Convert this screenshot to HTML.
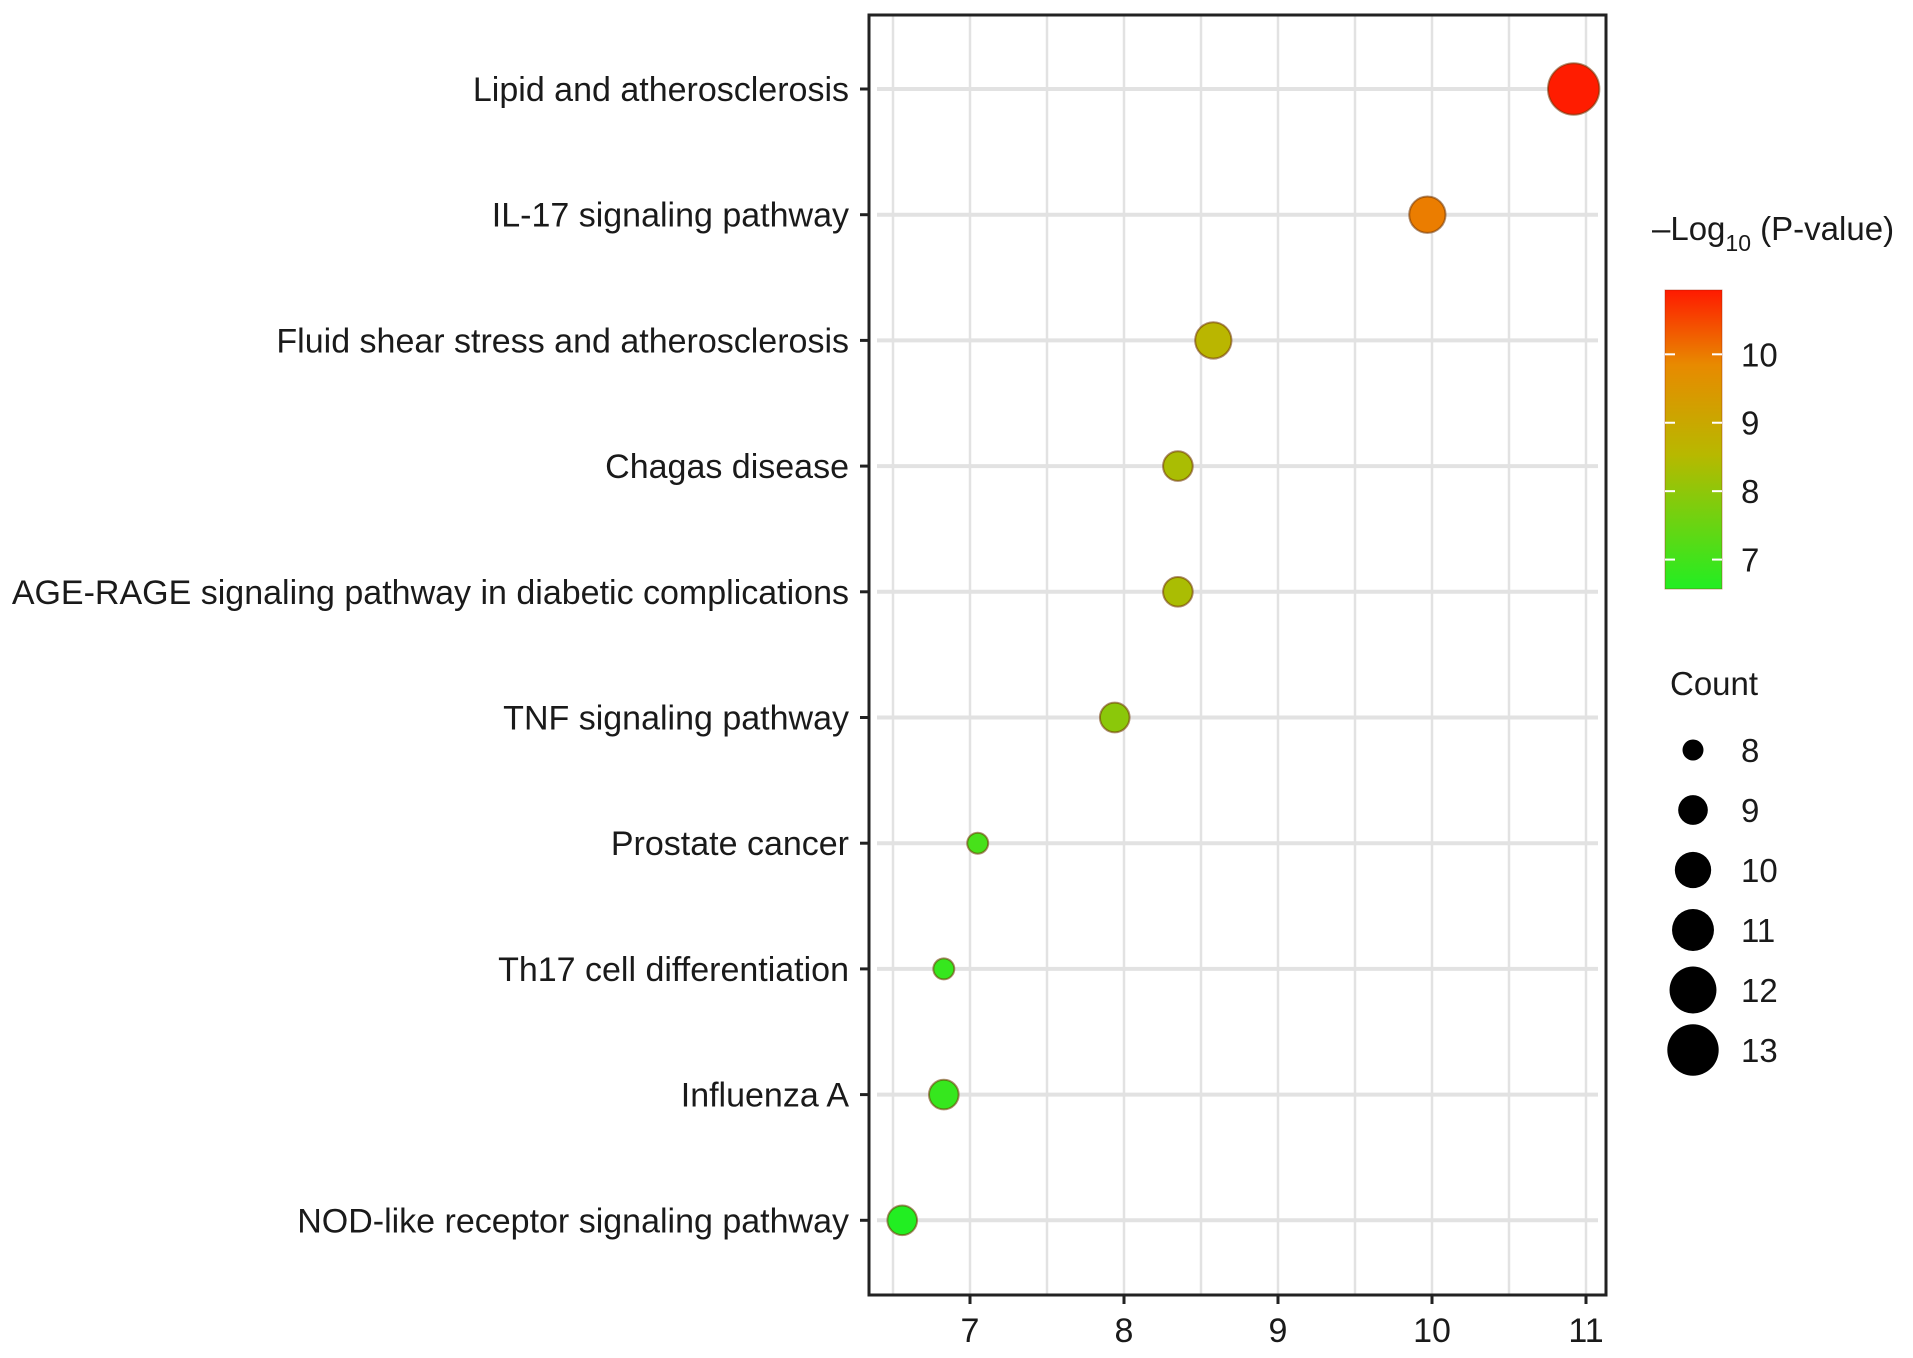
<!DOCTYPE html>
<html><head><meta charset="utf-8"><style>
html,body{margin:0;padding:0;background:#fff;}
svg{display:block;font-family:"Liberation Sans",Arial,sans-serif;}
</style></head><body>
<svg id="chart" width="1913" height="1358" viewBox="0 0 1913 1358">
<defs>
<linearGradient id="cgrad" x1="0" y1="1" x2="0" y2="0">
<stop offset="0" stop-color="#22ee22"/>
<stop offset="0.45" stop-color="#b8b800"/>
<stop offset="0.75" stop-color="#e88a00"/>
<stop offset="1" stop-color="#ff1a00"/>
</linearGradient>
</defs>
<g id="grid"></g>
<g id="marks"></g>
<g id="axes"></g>
<g id="legend"></g>
</svg>
<script>
const categories = ["Lipid and atherosclerosis","IL-17 signaling pathway","Fluid shear stress and atherosclerosis","Chagas disease","AGE-RAGE signaling pathway in diabetic complications","TNF signaling pathway","Prostate cancer","Th17 cell differentiation","Influenza A","NOD-like receptor signaling pathway"];
const xValues = [10.92, 9.97, 8.58, 8.35, 8.35, 7.94, 7.05, 6.83, 6.83, 6.56];
const colorValues = [10.92, 9.97, 8.58, 8.35, 8.35, 7.94, 7.05, 6.83, 6.83, 6.56];
const counts = [13, 10, 10, 9, 9, 9, 8, 8, 9, 9];
const xTicks = [7, 8, 9, 10, 11];
const colorTicks = [7, 8, 9, 10];
const sizeTicks = [8, 9, 10, 11, 12, 13];

const NS = "http://www.w3.org/2000/svg";
function mk(tag, attrs, parent){const e=document.createElementNS(NS,tag);for(const k in attrs)e.setAttribute(k,attrs[k]);parent.appendChild(e);return e;}
const L=869,R=1606,T=15,B=1295;
const xs = v => 970 + 154*(v-7);
const ys = i => 89 + i*125.7;
const rs = c => Math.sqrt(110 + (c-8)*110);
const cMin=6.57,cMax=10.94;
function lerp(a,b,t){return a+(b-a)*t;}
function colorFor(v){
  const stops=[[0,[34,238,34]],[0.45,[184,184,0]],[0.75,[232,138,0]],[1,[255,26,0]]];
  let t=(v-cMin)/(cMax-cMin);t=Math.max(0,Math.min(1,t));
  for(let i=0;i<stops.length-1;i++){const[a,ca]=stops[i],[b,cb]=stops[i+1];
    if(t<=b){const u=(t-a)/(b-a);return `rgb(${Math.round(lerp(ca[0],cb[0],u))},${Math.round(lerp(ca[1],cb[1],u))},${Math.round(lerp(ca[2],cb[2],u))})`;}}
  return "rgb(255,26,0)";
}
const grid=document.getElementById('grid'),marks=document.getElementById('marks'),axes=document.getElementById('axes'),legend=document.getElementById('legend');
for(let v=6.5; v<=11.01; v+=0.5){
  const g=mk('line',{x1:xs(v),x2:xs(v),y1:T,y2:B,stroke:'#e2e2e2','stroke-width':2.5},grid);
  
  
}
categories.forEach((c,i)=>{
  const g=mk('line',{x1:L+8,x2:R-8,y1:ys(i),y2:ys(i),stroke:'#e2e2e2','stroke-width':4},grid);
  
  
  const t=mk('line',{x1:L-9,x2:L,y1:ys(i),y2:ys(i),stroke:'#222','stroke-width':3},axes);
  
  
  const lb=mk('text',{x:L-20,y:ys(i)+12,'text-anchor':'end','font-size':34,fill:'#1a1a1a'},axes);
  lb.textContent=c;
  
  
});
xValues.forEach((v,i)=>{
  const p=mk('circle',{cx:xs(v),cy:ys(i),r:rs(counts[i]),fill:colorFor(colorValues[i]),stroke:'rgba(110,50,0,0.55)','stroke-width':2},marks);
  
  
});
const frame=mk('rect',{x:L,y:T,width:R-L,height:B-T,fill:'none',stroke:'#222','stroke-width':3},axes);


xTicks.forEach(v=>{
  const t=mk('line',{x1:xs(v),x2:xs(v),y1:B,y2:B+9,stroke:'#222','stroke-width':3},axes);
  
  
  const lb=mk('text',{x:xs(v),y:B+47,'text-anchor':'middle','font-size':34,fill:'#1a1a1a'},axes);
  lb.textContent=v;
  
  
});
const ct=mk('text',{x:1652,y:240,'font-size':33,fill:'#1a1a1a'},legend);


ct.innerHTML='–Log<tspan font-size="23" dy="11">10</tspan><tspan dy="-11"> (P-value)</tspan>';
const cbT=290,cbB=589,cbX=1665,cbW=57;
const cb=mk('rect',{x:cbX,y:cbT,width:cbW,height:cbB-cbT,fill:'url(#cgrad)',stroke:'rgba(150,30,0,0.4)','stroke-width':1},legend);


const cy=v=>cbB-(v-cMin)/(cMax-cMin)*(cbB-cbT);
colorTicks.forEach(v=>{
  const a=mk('line',{x1:cbX,x2:cbX+10,y1:cy(v),y2:cy(v),stroke:'#fff','stroke-width':2},legend);
  
  
  const b=mk('line',{x1:cbX+cbW-10,x2:cbX+cbW,y1:cy(v),y2:cy(v),stroke:'#fff','stroke-width':2},legend);
  
  
  const lb=mk('text',{x:1741,y:cy(v)+12,'font-size':33,fill:'#1a1a1a'},legend);
  lb.textContent=v;
  
  
});
const st=mk('text',{x:1670,y:695,'font-size':33,fill:'#1a1a1a'},legend);
st.textContent='Count';


sizeTicks.forEach((c,i)=>{
  const y=750+i*60;
  const p=mk('circle',{cx:1693,cy:y,r:rs(c),fill:'#000'},legend);
  
  
  const lb=mk('text',{x:1741,y:y+12,'font-size':33,fill:'#1a1a1a'},legend);
  lb.textContent=c;
  
  
});
</script>
</body></html>
